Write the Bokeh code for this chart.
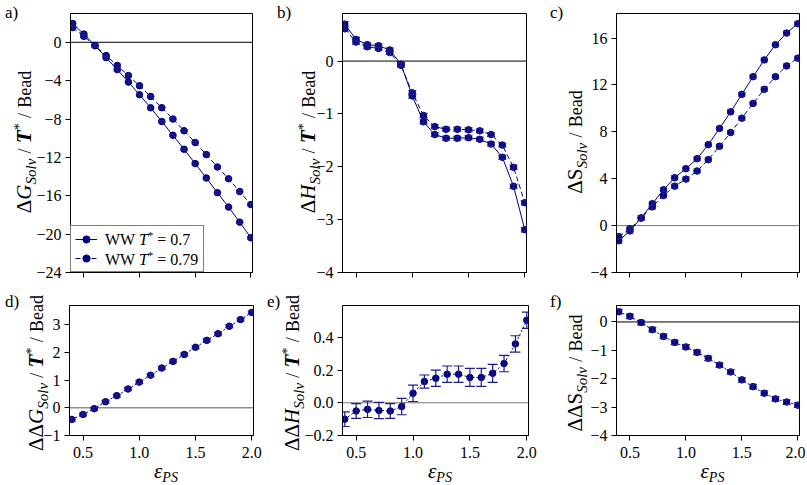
from bokeh.plotting import figure
from bokeh.models import (Range1d, FixedTicker, Span, Whisker, TeeHead,
                          ColumnDataSource, Legend, LegendItem, Div)
from bokeh.layouts import column, row
from bokeh.core.properties import value
from bokeh.embed import file_html
from bokeh.resources import INLINE

# ---------------- data ----------------
eps = [0.4, 0.5, 0.6, 0.7, 0.8, 0.9, 1.0, 1.1, 1.2, 1.3, 1.4, 1.5, 1.6, 1.7, 1.8, 1.9, 2.0]

dG_070 = [1.95, 0.85, -0.33, -1.60, -2.85, -4.15, -5.47, -6.83, -8.26, -9.69,
          -11.15, -12.65, -14.15, -15.68, -17.18, -18.75, -20.38]
dG_079 = [1.53, 0.62, -0.36, -1.38, -2.42, -3.47, -4.53, -5.65, -6.82, -8.00,
          -9.22, -10.45, -11.71, -13.00, -14.23, -15.56, -16.92]
dG_err = [0.15, 0.14, 0.14, 0.13, 0.13, 0.13, 0.12, 0.12, 0.12, 0.12,
          0.12, 0.12, 0.12, 0.12, 0.12, 0.12, 0.12]

dH_070 = [0.70, 0.41, 0.31, 0.29, 0.21, -0.06, -0.66, -1.15, -1.39, -1.46,
          -1.46, -1.45, -1.48, -1.57, -1.82, -2.37, -3.19]
dH_079 = [0.61, 0.36, 0.27, 0.24, 0.16, -0.08, -0.60, -1.03, -1.24, -1.29,
          -1.29, -1.30, -1.32, -1.39, -1.59, -2.01, -2.68]
dH_err = [0.045, 0.04, 0.035, 0.035, 0.035, 0.035, 0.04, 0.04, 0.035, 0.035,
          0.035, 0.035, 0.035, 0.035, 0.035, 0.04, 0.04]

dS_070 = [-1.29, -0.45, 0.66, 1.87, 3.06, 4.09, 4.86, 5.71, 6.91, 8.29,
          9.71, 11.20, 12.71, 14.14, 15.43, 16.43, 17.23]
dS_079 = [-0.94, -0.27, 0.64, 1.60, 2.57, 3.37, 3.97, 4.66, 5.63, 6.77,
          7.94, 9.17, 10.43, 11.63, 12.71, 13.63, 14.29]
dS_err = [0.2, 0.18, 0.18, 0.17, 0.17, 0.17, 0.16, 0.16, 0.16, 0.16,
          0.16, 0.16, 0.16, 0.16, 0.16, 0.16, 0.16]

ddG = [-0.42, -0.24, -0.03, 0.22, 0.44, 0.68, 0.93, 1.18, 1.44, 1.68,
       1.93, 2.19, 2.44, 2.68, 2.95, 3.19, 3.45]
ddG_err = [0.06, 0.05, 0.05, 0.05, 0.05, 0.05, 0.05, 0.05, 0.05, 0.05,
           0.05, 0.05, 0.05, 0.05, 0.05, 0.05, 0.05]
ddH = [-0.10, -0.05, -0.04, -0.047, -0.05, -0.023, 0.058, 0.13, 0.15, 0.175,
       0.175, 0.155, 0.155, 0.18, 0.24, 0.36, 0.505]
ddH_err = [0.045, 0.045, 0.05, 0.05, 0.045, 0.05, 0.05, 0.04, 0.05, 0.05,
           0.05, 0.055, 0.055, 0.055, 0.05, 0.05, 0.05]
ddS = [0.36, 0.20, -0.02, -0.27, -0.51, -0.72, -0.88, -1.07, -1.28, -1.52,
       -1.76, -2.04, -2.28, -2.51, -2.71, -2.82, -2.93]
ddS_err = [0.08, 0.08, 0.08, 0.08, 0.08, 0.08, 0.08, 0.08, 0.08, 0.08,
           0.08, 0.08, 0.08, 0.08, 0.08, 0.08, 0.08]

x_ticks = [0.5, 1.0, 1.5, 2.0]
x_tick_labels = ["0.5", "1.0", "1.5", "2.0"]

yt_a = [-24, -20, -16, -12, -8, -4, 0]
yl_a = ["\u221224", "\u221220", "\u221216", "\u221212", "\u22128", "\u22124", "0"]
yt_b = [-4, -3, -2, -1, 0]
yl_b = ["\u22124", "\u22123", "\u22122", "\u22121", "0"]
yt_c = [-4, 0, 4, 8, 12, 16]
yl_c = ["\u22124", "0", "4", "8", "12", "16"]
yt_d = [-1, 0, 1, 2, 3]
yl_d = ["\u22121", "0", "1", "2", "3"]
yt_e = [-0.2, 0.0, 0.2, 0.4]
yl_e = ["\u22120.2", "0.0", "0.2", "0.4"]
yt_f = [-4, -3, -2, -1, 0]
yl_f = ["\u22124", "\u22123", "\u22122", "\u22121", "0"]

legend_T = ["0.7", "0.79"]
panel_letters = ["a)", "b)", "c)", "d)", "e)", "f)"]

# ---------------- styling ----------------
NAVY = "#000080"
ERR = "#1c1c8c"
SERIF = "Liberation Serif"


def make_fig(yr, yt, yl, fw, fh, bl, br, bt, bb, bottom_labels, zero_color):
    p = figure(frame_width=fw, frame_height=fh, x_range=Range1d(0.38, 2.015),
               y_range=Range1d(*yr), output_backend="svg", toolbar_location=None,
               tools="", title=None, min_border_left=bl, min_border_right=br,
               min_border_top=bt, min_border_bottom=bb)
    p.xgrid.visible = False
    p.ygrid.visible = False
    p.outline_line_color = "black"
    p.outline_line_width = 1
    p.outline_line_alpha = 1
    p.background_fill_color = "white"
    p.border_fill_color = "white"
    xa = p.xaxis[0]
    ya = p.yaxis[0]
    for ax in (xa, ya):
        ax.major_tick_in = 0
        ax.major_tick_out = 5
        ax.minor_tick_in = 0
        ax.minor_tick_out = 0
        ax.major_tick_line_color = "black"
        ax.major_tick_line_width = 1
        ax.axis_line_color = "black"
        ax.axis_line_width = 1
        ax.major_label_text_font = SERIF
        ax.major_label_text_color = "black"
        ax.major_label_text_font_size = "16px"
    xa.ticker = FixedTicker(ticks=x_ticks)
    ya.ticker = FixedTicker(ticks=yt)
    ya.major_label_overrides = {t: l for t, l in zip(yt, yl)}
    ya.major_label_standoff = 4
    if bottom_labels:
        xa.major_label_overrides = {t: l for t, l in zip(x_ticks, x_tick_labels)}
        xa.major_label_standoff = 6
    else:
        xa.major_label_overrides = {t: "" for t in x_ticks}
        xa.major_label_text_font_size = "1px"
        xa.major_label_standoff = 0
    p.add_layout(Span(location=0, dimension="width", line_color=zero_color,
                      line_width=1, level="underlay"))
    return p


def add_series(p, y, err, dash, cap, size=6.5, lw=1.0):
    src = ColumnDataSource(dict(x=eps, y=y,
                                lo=[a - b for a, b in zip(y, err)],
                                hi=[a + b for a, b in zip(y, err)]))
    rl = p.line("x", "y", source=src, line_color=NAVY, line_width=lw, line_dash=dash)
    p.add_layout(Whisker(source=src, base="x", lower="lo", upper="hi",
                         dimension="height", line_color=ERR, line_width=1.2,
                         upper_head=TeeHead(size=cap, line_color=ERR, line_width=1.2),
                         lower_head=TeeHead(size=cap, line_color=ERR, line_width=1.2),
                         level="glyph"))
    rs = p.scatter("x", "y", source=src, size=size, fill_color=NAVY, line_color=NAVY,
                   marker="circle")
    return rl, rs


TOP_FH, BOT_FH = 259, 130
TOP_BT, TOP_BB = 13, 10
BOT_BT, BOT_BB = 23, 48

# ---------------- top row ----------------
pa = make_fig((-24, 3.0), yt_a, yl_a, 182, TOP_FH, 70, 20, TOP_BT, TOP_BB, False, "black")
la1, sa1 = add_series(pa, dG_070, dG_err, "solid", 7)
la2, sa2 = add_series(pa, dG_079, dG_err, "5 3", 7)

pb = make_fig((-4, 0.9), yt_b, yl_b, 184, TOP_FH, 70, 19, TOP_BT, TOP_BB, False, "black")
add_series(pb, dH_070, dH_err, "solid", 8)
add_series(pb, dH_079, dH_err, "5 3", 8)

pc = make_fig((-4, 18.1), yt_c, yl_c, 183, TOP_FH, 71, 6, TOP_BT, TOP_BB, False, "#777777")
add_series(pc, dS_070, dS_err, "solid", 7)
add_series(pc, dS_079, dS_err, "5 3", 7)

# ---------------- bottom row ----------------
pd = make_fig((-1, 3.7), yt_d, yl_d, 184, BOT_FH, 69, 19, BOT_BT, BOT_BB, True, "#555555")
add_series(pd, ddG, ddG_err, "2 2", 8)

pe = make_fig((-0.2, 0.595), yt_e, yl_e, 186, BOT_FH, 70, 17, BOT_BT, BOT_BB, True, "#777777")
add_series(pe, ddH, ddH_err, "2 2", 10)

pf = make_fig((-4, 0.58), yt_f, yl_f, 183, BOT_FH, 71, 6, BOT_BT, BOT_BB, True, "black")
add_series(pf, ddS, ddS_err, "2 2", 8)

# ---------------- legend (panel a) ----------------
legend = Legend(items=[LegendItem(label=value(" "), renderers=[la1, sa1]),
                       LegendItem(label=value(" "), renderers=[la2, sa2])],
                location="bottom_left", margin=0, padding=4, spacing=1,
                glyph_width=22, glyph_height=18, label_height=18, label_width=98,
                label_standoff=4, border_line_color="black", border_line_width=1.5,
                background_fill_color="white", background_fill_alpha=1.0,
                label_text_font_size="16px")
pa.add_layout(legend)

# ---------------- HTML text layer (labels with sub/superscripts) ----------------
FONT = "font-family:'Liberation Serif',serif;color:#000;"
parts = []


def sp(t, size, it=False, bold=False, dy=0, margin=0):
    st = f"font-size:{size}px;"
    if it:
        st += "font-style:italic;"
    if bold:
        st += "font-weight:bold;"
    if dy:
        st += f"position:relative;top:{dy}px;"
    if margin:
        st += f"margin:0 {margin}px;"
    return f'<span style="{st}">{t}</span>'


def rot(xl, yc, inner, w=300):
    yb = yc + w / 2
    parts.append(
        f'<div style="position:absolute;left:{xl}px;top:{yb}px;width:{w}px;height:20px;'
        f'line-height:20px;transform-origin:0 0;transform:rotate(-90deg);'
        f'text-align:center;white-space:nowrap;{FONT}font-size:17px;">{inner}</div>')


def horiz(x, top, inner, w, align="left", size=16, lh=20):
    parts.append(
        f'<div style="position:absolute;left:{x}px;top:{top}px;width:{w}px;height:{lh}px;'
        f'line-height:{lh}px;text-align:{align};white-space:nowrap;{FONT}font-size:{size}px;">'
        f'{inner}</div>')


SLASH = sp("/", 18, margin=1)
TSTAR = sp("T", 21, it=True, bold=True) + sp("*", 14, dy=-7)
BEAD = sp("Bead", 18)


def ylab(delta, sym, sym_it, with_T):
    s = sp(delta, 21) + sp(sym, 21, it=sym_it) + sp("Solv", 15, it=True, dy=5)
    if with_T:
        s += " " + SLASH + " " + TSTAR
    s += " " + SLASH + " " + BEAD
    return s


TOP_C = TOP_BT + TOP_FH / 2 - 6
BOT_TOP = TOP_BT + TOP_FH + TOP_BB + BOT_BT
BOT_C = BOT_TOP + BOT_FH / 2 - 2
rot(9, TOP_C, ylab("Δ", "G", True, True))
rot(293, TOP_C, ylab("Δ", "H", True, True))
rot(560, TOP_C, ylab("Δ", "S", False, False))
rot(21, BOT_C, ylab("ΔΔ", "G", True, True))
rot(277, BOT_C, ylab("ΔΔ", "H", True, True))
rot(560, BOT_C, ylab("ΔΔ", "S", False, False))

# x labels (bottom row)
XLAB = sp("ε", 21, it=True) + sp("PS", 14, it=True, dy=4)
for fl, fw in ((69, 184), (342, 186), (616, 183)):
    horiz(fl, 454, XLAB, fw, align="center", size=21, lh=24)

# panel letters
for (lx, ly), letter in zip([(0, -2), (272, -2), (545, -2), (0, 287), (262, 287), (545, 287)],
                            panel_letters):
    horiz(lx, ly, letter, 20, size=17)

# legend texts
for i, tv in enumerate(legend_T):
    inner = "WW " + sp("T", 16, it=True) + sp("*", 11, dy=-6) + " = " + tv
    horiz(100, 225 + 20 * i, inner, 100, size=16)

overlay = Div(text="".join(parts), width=807, height=485,
              styles={"position": "absolute", "left": "0px", "top": "0px",
                      "overflow": "hidden", "pointer-events": "none", "z-index": "5"})

layout = column(row(pa, pb, pc), row(pd, pe, pf), overlay)
open("out.html", "w").write(file_html(layout, INLINE))
